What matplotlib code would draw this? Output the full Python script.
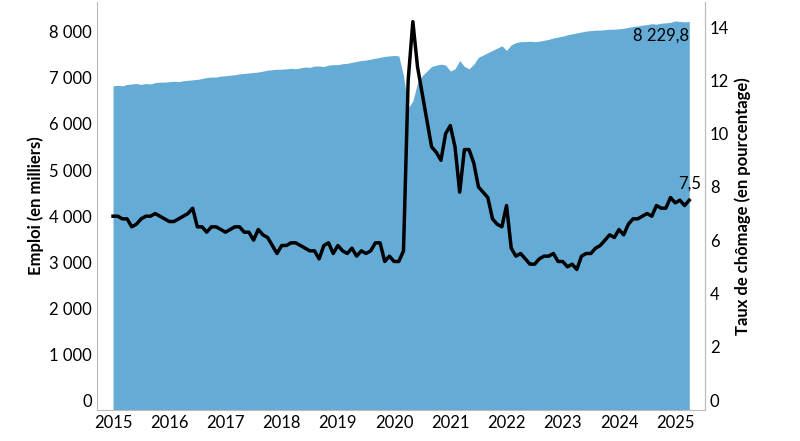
import matplotlib
matplotlib.use("Agg")
import matplotlib.pyplot as plt
import numpy as np

plt.rcParams["font.family"] = "Lato"

emploi = [6830,6840,6830,6860,6870,6880,6860,6880,6870,6900,6910,6910,
          6920,6930,6920,6940,6950,6960,6970,6990,7010,7020,7020,7040,
          7050,7060,7070,7090,7100,7110,7120,7130,7150,7170,7180,7190,
          7190,7200,7210,7200,7220,7240,7230,7260,7260,7250,7280,7290,
          7290,7310,7320,7340,7360,7380,7390,7410,7430,7450,7470,7480,
          7490,7480,7050,6350,6500,6900,7050,7150,7250,7280,7300,7280,
          7150,7200,7380,7250,7200,7300,7450,7500,7550,7600,7650,7700,
          7600,7720,7770,7790,7790,7800,7790,7800,7820,7840,7870,7890,
          7910,7940,7960,7980,8000,8020,8030,8040,8040,8050,8060,8060,
          8070,8080,8100,8120,8130,8150,8160,8180,8170,8190,8200,8210,
          8240,8230,8220,8229.8]
chomage = [6.9,6.9,6.8,6.8,6.5,6.6,6.8,6.9,6.9,7.0,6.9,6.8,
           6.7,6.7,6.8,6.9,7.0,7.2,6.5,6.5,6.3,6.5,6.5,6.4,
           6.3,6.4,6.5,6.5,6.3,6.3,6.0,6.4,6.2,6.1,5.8,5.5,
           5.8,5.8,5.9,5.9,5.8,5.7,5.6,5.6,5.3,5.8,5.9,5.5,
           5.8,5.6,5.5,5.7,5.4,5.6,5.5,5.6,5.9,5.9,5.2,5.4,
           5.2,5.2,5.6,12.0,14.2,12.5,11.5,10.5,9.5,9.3,9.0,10.0,
           10.3,9.5,7.8,9.4,9.4,8.9,8.0,7.8,7.6,6.8,6.6,6.5,
           7.3,5.7,5.4,5.5,5.3,5.1,5.1,5.3,5.4,5.4,5.5,5.2,
           5.2,5.0,5.1,4.9,5.4,5.5,5.5,5.7,5.8,6.0,6.2,6.1,
           6.4,6.2,6.6,6.8,6.8,6.9,7.0,6.9,7.3,7.2,7.2,7.6,
           7.4,7.5,7.3,7.5]
annees = list(range(2015, 2026))

t = 2015 + np.arange(len(emploi)) / 12.0

fig = plt.figure(figsize=(8, 4.41), dpi=100)
ax = fig.add_axes([97/800, 1-410/441, (705-97)/800, 408/441])
ax.fill_between(t, emploi, -217, color="#64acd6", lw=0)
ax.set_ylim(-217, 8652)
ax.set_xlim(2015 - 0.285, 2025.53)
ax.set_yticks(range(0, 8001, 1000))
ax.set_yticklabels([f"{v:,}".replace(",", " ") for v in range(0, 8001, 1000)])
ax.set_xticks(annees)
ax.set_xticklabels([str(a) for a in annees])
ax.set_ylabel("Emploi (en milliers)", fontsize=12, fontweight="bold")
ax.tick_params(labelsize=12, length=0)
for s in ["top"]:
    ax.spines[s].set_visible(False)
for s in ["left", "bottom", "right"]:
    ax.spines[s].set_color("#bbbbbb")

ax2 = ax.twinx()
ax2.plot(t, chomage, color="black", lw=2.5)
ax2.set_ylim(-0.375, 14.94)
ax2.set_yticks(range(0, 15, 2))
ax2.tick_params(labelsize=12, length=0)
ax2.set_ylabel("Taux de chômage (en pourcentage)", fontsize=12, fontweight="bold")
for s in ["top", "left", "bottom"]:
    ax2.spines[s].set_visible(False)
ax2.spines["right"].set_color("#bbbbbb")

ax.annotate("8 229,8", (t[-1], emploi[-1]), xytext=(0, -10), textcoords="offset points",
            ha="right", va="center", fontsize=12)
ax2.annotate("7,5", (t[-1], chomage[-1]), xytext=(0, 12), textcoords="offset points",
             ha="center", va="center", fontsize=12)

fig.savefig("out.png", dpi=100)
